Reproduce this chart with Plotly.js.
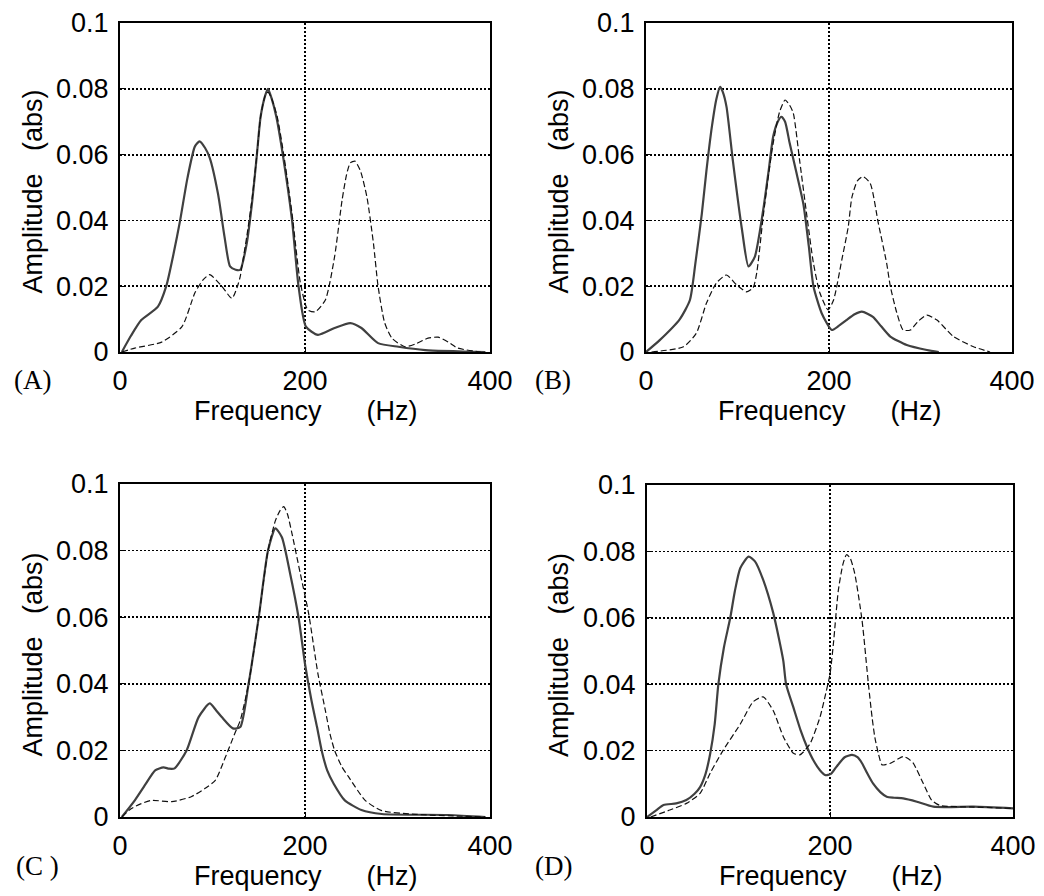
<!DOCTYPE html>
<html>
<head>
<meta charset="utf-8">
<script src="https://cdn.plot.ly/plotly-3.0.1.min.js"></script>
<style>html,body{margin:0;padding:0;background:#fff;}#chart{width:1044px;height:896px;}</style>
</head>
<body>
<div id="chart"></div>
<script>
// ---------- data ----------
// Panel A
var freqA_solid = [2,12,23,41,50,58,65,73,81,86,92,97,106,113,119,125,130,137,143,148,152,157,160,164,169,176,186,193,201,214,232,249,261,279,301,330,395];
var ampA_solid  = [0,0.005,0.0097,0.0138,0.02,0.03,0.040,0.053,0.0625,0.064,0.062,0.059,0.048,0.035,0.026,0.025,0.025,0.033,0.046,0.060,0.0715,0.078,0.080,0.077,0.0715,0.060,0.040,0.020,0.0077,0.0052,0.0073,0.0088,0.0073,0.0027,0.0016,0.0006,0];
var freqA_dash  = [2,16,45,67,81,90,97,110,121,127,130,133,137,143,148,152,157,160,164,170,177,186,195,203,211,222,232,240,245,249,254,260,267,274,279,286,294,308,320,333,344,355,365,390];
var ampA_dash   = [0,0.0012,0.003,0.0077,0.018,0.022,0.0235,0.020,0.0163,0.020,0.023,0.028,0.035,0.047,0.060,0.0715,0.078,0.079,0.077,0.0715,0.060,0.042,0.021,0.0128,0.0122,0.0158,0.029,0.046,0.054,0.0575,0.058,0.055,0.047,0.033,0.020,0.009,0.0042,0.0016,0.0025,0.0042,0.0045,0.003,0.0012,0];
// Panel B
var freqB_solid = [0,15,37,48,54,61,66,72,77,81,84,88,95,105,112,119,128,134,139,144,148,152,157,164,172,178,183,192,203,211,219,228,236,248,257,267,285,307,320];
var ampB_solid  = [0,0.0036,0.010,0.0158,0.027,0.042,0.055,0.0685,0.077,0.0806,0.079,0.0745,0.058,0.037,0.026,0.029,0.043,0.055,0.0655,0.070,0.0715,0.070,0.0635,0.055,0.045,0.032,0.020,0.0118,0.0067,0.008,0.0097,0.0115,0.0123,0.0107,0.0078,0.0047,0.0021,0.0006,0];
var freqB_dash  = [6,41,55,66,77,88,99,110,117,121,128,134,139,146,152,157,161,168,176,183,190,199,205,214,221,225,231,237,245,254,263,267,274,281,289,298,307,318,336,358,376];
var ampB_dash   = [0,0.0016,0.0057,0.0148,0.021,0.0234,0.0204,0.0183,0.0195,0.024,0.041,0.054,0.0635,0.073,0.0766,0.075,0.0726,0.058,0.041,0.027,0.018,0.0128,0.0158,0.028,0.038,0.047,0.052,0.0533,0.0513,0.039,0.027,0.020,0.012,0.0067,0.0067,0.0095,0.0112,0.0097,0.0047,0.0016,0];
// Panel C
var freqC_solid = [2,16,28,38,47,53,59,72,85,97,104,110,122,130,139,150,160,168,175,184,193,200,207,213,218,224,231,243,261,283,355,395];
var ampC_solid  = [0,0.005,0.010,0.014,0.0149,0.0145,0.0146,0.020,0.030,0.0341,0.032,0.030,0.0266,0.027,0.040,0.060,0.080,0.0867,0.084,0.073,0.060,0.046,0.035,0.027,0.020,0.014,0.010,0.005,0.0021,0.0009,0.0006,0];
var freqC_dash  = [2,12,23,34,56,77,92,103,114,124,130,139,150,160,168,173,177,181,186,195,204,214,222,227,232,240,247,265,283,320,395];
var ampC_dash   = [0,0.0025,0.004,0.005,0.0046,0.0061,0.0086,0.011,0.018,0.025,0.029,0.040,0.060,0.080,0.089,0.092,0.0932,0.091,0.085,0.073,0.061,0.043,0.032,0.025,0.020,0.015,0.0121,0.005,0.0019,0.0008,0];
// Panel D
var freqD_solid = [0,10,18,32,43,52,58,64,69,74,78,84,91,96,102,111,118,127,138,144,149,152,160,168,175,182,189,195,201,207,216,224,230,235,241,247,255,262,270,280,295,313,357,400];
var ampD_solid  = [0,0.002,0.0036,0.0041,0.0051,0.007,0.009,0.013,0.019,0.028,0.040,0.051,0.060,0.068,0.075,0.0784,0.077,0.0714,0.0614,0.054,0.047,0.040,0.033,0.026,0.021,0.017,0.0141,0.0126,0.013,0.0151,0.018,0.0187,0.018,0.0162,0.013,0.0101,0.0075,0.0061,0.0058,0.0056,0.0046,0.0031,0.0031,0.0026];
var freqD_dash  = [4,25,43,58,69,83,102,116,127,138,149,160,167,178,189,196,200,204,209,214,218,222,227,235,242,246,249,253,257,266,280,286,291,302,311,320,357,400];
var ampD_dash   = [0,0.0021,0.0041,0.0071,0.0132,0.020,0.028,0.0347,0.0362,0.032,0.0242,0.0192,0.0187,0.022,0.030,0.038,0.043,0.053,0.068,0.076,0.079,0.078,0.0734,0.0593,0.040,0.030,0.024,0.019,0.0157,0.0162,0.0182,0.0175,0.0162,0.0101,0.0051,0.0035,0.003,0.0026];

// tick labels and texts
var xTickVals = [0,200,400];
var xTickText = ['0','200','400'];
var yTickVals = [0,0.02,0.04,0.06,0.08,0.1];
var yTickText = ['0','0.02','0.04','0.06','0.08','0.1'];
var panelLabels = ['(A)','(B)','(C )','(D)'];
var xTitle = 'Frequency\u00a0\u00a0\u00a0\u00a0\u00a0\u00a0(Hz)';
var yTitle = 'Amplitude\u00a0\u00a0\u00a0(abs)';

// ---------- layout helpers ----------
var W = 1044, H = 896;
function px(x){return x/W;}
function py(y){return 1 - y/H;}
var SANS = 'Liberation Sans, Arial, Helvetica, sans-serif';
var SERIF = 'Liberation Serif, Times New Roman, serif';
var FS = 27;

// plot-area boxes in pixels [left, right, top, bottom]
var boxes = [
  [120, 490, 23, 352],
  [646, 1012, 23, 352],
  [120, 490, 484, 817],
  [647, 1013, 485, 817]
];

var series = [
  [freqA_solid, ampA_solid, freqA_dash, ampA_dash],
  [freqB_solid, ampB_solid, freqB_dash, ampB_dash],
  [freqC_solid, ampC_solid, freqC_dash, ampC_dash],
  [freqD_solid, ampD_solid, freqD_dash, ampD_dash]
];

var traces = [];
var layout = {
  width: W, height: H,
  margin: {l:0, r:0, t:0, b:0},
  paper_bgcolor: '#fff', plot_bgcolor: '#fff',
  showlegend: false,
  font: {family: SANS, size: FS, color: '#000'},
  annotations: []
};

for (var i = 0; i < 4; i++) {
  var s = i === 0 ? '' : String(i + 1);
  var b = boxes[i];
  traces.push({
    x: series[i][0], y: series[i][1], xaxis: 'x' + s, yaxis: 'y' + s,
    type: 'scatter', mode: 'lines', hoverinfo: 'skip',
    line: {color: '#404040', width: 2.2, shape: 'spline', smoothing: 0.6}
  });
  traces.push({
    x: series[i][2], y: series[i][3], xaxis: 'x' + s, yaxis: 'y' + s,
    type: 'scatter', mode: 'lines', hoverinfo: 'skip',
    line: {color: '#111', width: 1.2, dash: '6px,3px', shape: 'spline', smoothing: 0.6}
  });
  layout['xaxis' + s] = {
    domain: [px(b[0]), px(b[1])], anchor: 'y' + s, range: [0, 400],
    tickmode: 'array', tickvals: xTickVals, ticktext: xTickText,
    showgrid: true, gridcolor: '#000', griddash: '2px,2px', gridwidth: 1.8,
    showline: true, mirror: true, linecolor: '#000', linewidth: 2,
    ticks: 'inside', ticklen: 5, tickcolor: '#000', zeroline: false,
    tickfont: {family: SANS, size: FS, color: '#000'},
    ticklabelstandoff: 4, fixedrange: true
  };
  layout['yaxis' + s] = {
    domain: [py(b[3]), py(b[2])], anchor: 'x' + s, range: [0, 0.1],
    tickmode: 'array', tickvals: yTickVals, ticktext: yTickText,
    showgrid: true, gridcolor: '#000', griddash: '2px,2px', gridwidth: 1.8,
    showline: true, mirror: true, linecolor: '#000', linewidth: 2,
    ticks: 'inside', ticklen: 5, tickcolor: '#000', zeroline: false,
    tickfont: {family: SANS, size: FS, color: '#000'},
    ticklabelstandoff: 4, fixedrange: true
  };
  var cx = (b[0] + b[1]) / 2;
  // x-axis title
  layout.annotations.push({
    text: xTitle, xref: 'paper', yref: 'paper', showarrow: false,
    x: px(cx + 1), y: py(b[3] + 59), xanchor: 'center', yanchor: 'middle',
    font: {family: SANS, size: FS, color: '#000'}
  });
  // y-axis title
  layout.annotations.push({
    text: yTitle, xref: 'paper', yref: 'paper', showarrow: false, textangle: -90,
    x: px(b[0] - 88), y: py((b[2] + b[3]) / 2 + 4), xanchor: 'center', yanchor: 'middle',
    font: {family: SANS, size: FS, color: '#000'}
  });
  // panel label
  var lx = (i % 2 === 0) ? 32 : 553;
  var ly = (i < 2) ? 380 : 866;
  if (i === 2) lx = 37;
  layout.annotations.push({
    text: panelLabels[i], xref: 'paper', yref: 'paper', showarrow: false,
    x: px(lx), y: py(ly), xanchor: 'center', yanchor: 'middle',
    font: {family: SERIF, size: FS, color: '#000'}
  });
}

Plotly.newPlot('chart', traces, layout, {staticPlot: true, displayModeBar: false});
</script>
</body>
</html>
